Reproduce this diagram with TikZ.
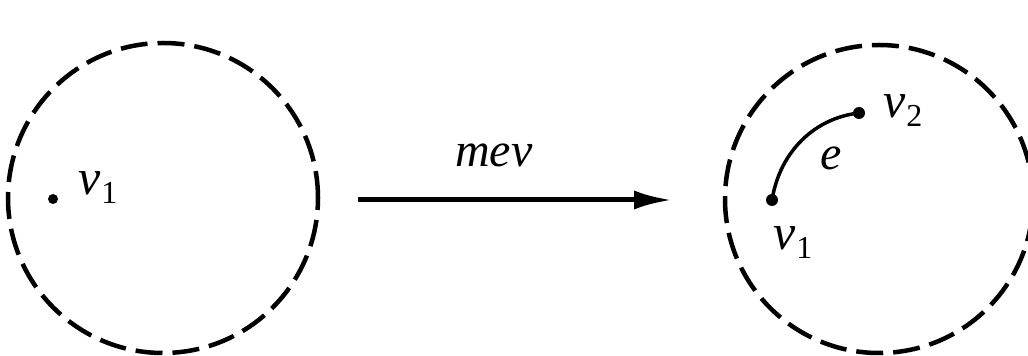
\documentclass[tikz,border=0pt]{standalone}
\usepackage{fontspec}
\setmainfont{Liberation Serif}
\usetikzlibrary{arrows.meta}
\newcommand\biglab[1]{{\fontsize{48}{48}\selectfont\itshape #1}}
\newcommand\vlab[1]{{\fontsize{50}{50}\selectfont\itshape v}\kern1pt\raisebox{-9pt}{\fontsize{32}{32}\selectfont #1}}
\begin{document}
\begin{tikzpicture}[x=1pt,y=1pt,
  region/.style={draw=black, line width=4.5pt, dash pattern=on 27pt off 10pt},
  vdot/.style={circle, fill=black, inner sep=0pt, minimum size=12pt},
  lab/.style={inner sep=0pt, anchor=base west},
  edgeline/.style={line width=3.5pt},
  maparrow/.style={line width=5pt, -{Latex[length=38pt,width=19pt]}}]
\useasboundingbox (0,0) rectangle (1028,356);
\clip (0,0) rectangle (1028,356);
% left region
\node[region, circle, minimum size=310pt, inner sep=0pt] (L) at (163,158) {};
\node[vdot, minimum size=10pt] (a1) at (53,157) {};
\node[lab] (a1l) at (78,161) {\vlab{1}};
% arrow
\coordinate (s) at (358,156);
\coordinate (t) at (672,156);
\draw[maparrow] (s) -- (t);
\node[lab] (m) at (455,189) {\biglab{mev}};
% right region
\node[region, circle, minimum size=308pt, inner sep=0pt] (R) at (879,157) {};
\node[vdot] (b1) at (772,156) {};
\node[vdot] (b2) at (859,243) {};
\draw[edgeline] (b1.center) .. controls (780,205) and (815,238) .. (b2.center);
\node[lab] (b1l) at (773,106) {\vlab{1}};
\node[lab] (b2l) at (883,238) {\vlab{2}};
\node[lab] (el) at (820,186) {\biglab{e}};
\end{tikzpicture}
\end{document}
